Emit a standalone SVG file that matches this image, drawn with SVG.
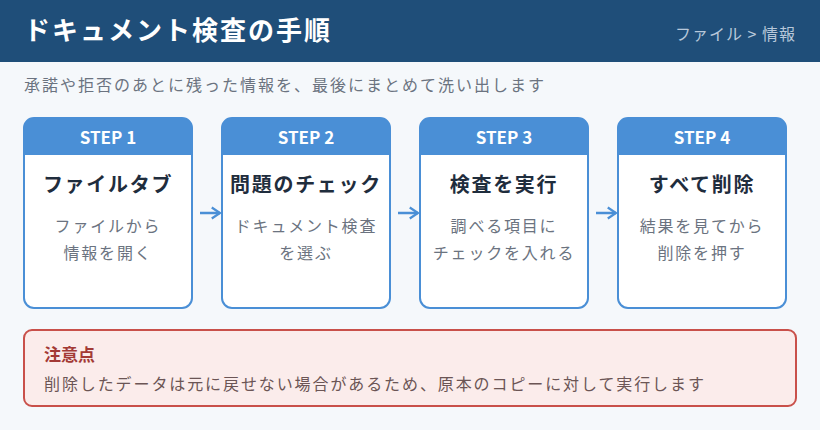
<svg xmlns="http://www.w3.org/2000/svg" width="820" height="430" viewBox="0 0 820 430">
<style>
text{font-family:"Noto Sans CJK JP","Noto Sans",sans-serif}
.card{fill:#fff;stroke:#4a8fd6;stroke-width:2}
.band{fill:#4a8fd6}
.step{fill:#fff;font-size:17px;font-weight:bold;text-anchor:middle}
.title{fill:#1f2d3d;font-size:20px;font-weight:bold;text-anchor:middle;letter-spacing:1.7px}
.desc{fill:#6b7380;font-size:16px;text-anchor:middle;letter-spacing:1.8px}
.arr{stroke:#4a8fd6;stroke-width:2.5;fill:none}
</style>
<defs>
<marker id="ah" viewBox="0 0 10 10" refX="8" refY="5" markerWidth="5.5" markerHeight="5.5" orient="auto"><path d="M2 1L8 5L2 9" fill="none" stroke="#4a8fd6" stroke-width="1.6"/></marker>
</defs>
<rect width="820" height="430" fill="#f5f8fb"/>
<g id="header">
<rect width="820" height="62" fill="#1f4e79"/>
<text x="24" y="40" fill="#fff" font-size="26" font-weight="bold" letter-spacing="2">ドキュメント検査の手順</text>
<text x="796" y="40" fill="#b8c8da" font-size="16" text-anchor="end" letter-spacing="1">ファイル &gt; 情報</text>
</g>
<text x="24" y="91" fill="#6b7380" font-size="16" letter-spacing="2">承諾や拒否のあとに残った情報を、最後にまとめて洗い出します</text>
<g id="s1"><rect class="card" x="24" y="118" width="168" height="190" rx="10"/><path class="band" d="M34 118H182A10 10 0 0 1 192 128V155H24V128A10 10 0 0 1 34 118Z"/>
<text class="step" x="108" y="144">STEP 1</text><text class="title" x="108" y="192">ファイルタブ</text><text class="desc" x="108" y="232">ファイルから</text><text class="desc" x="108" y="259">情報を開く</text></g>
<g id="s2"><rect class="card" x="222" y="118" width="168" height="190" rx="10"/><path class="band" d="M232 118H380A10 10 0 0 1 390 128V155H222V128A10 10 0 0 1 232 118Z"/>
<text class="step" x="306" y="144">STEP 2</text><text class="title" x="306" y="192">問題のチェック</text><text class="desc" x="306" y="232">ドキュメント検査</text><text class="desc" x="306" y="259">を選ぶ</text></g>
<g id="s3"><rect class="card" x="420" y="118" width="168" height="190" rx="10"/><path class="band" d="M430 118H578A10 10 0 0 1 588 128V155H420V128A10 10 0 0 1 430 118Z"/>
<text class="step" x="504" y="144">STEP 3</text><text class="title" x="504" y="192">検査を実行</text><text class="desc" x="504" y="232">調べる項目に</text><text class="desc" x="504" y="259">チェックを入れる</text></g>
<g id="s4"><rect class="card" x="618" y="118" width="168" height="190" rx="10"/><path class="band" d="M628 118H776A10 10 0 0 1 786 128V155H618V128A10 10 0 0 1 628 118Z"/>
<text class="step" x="702" y="144">STEP 4</text><text class="title" x="702" y="192">すべて削除</text><text class="desc" x="702" y="232">結果を見てから</text><text class="desc" x="702" y="259">削除を押す</text></g>
<g id="connectors">
<line class="arr" x1="200" y1="213" x2="220" y2="213" marker-end="url(#ah)"/>
<line class="arr" x1="398" y1="213" x2="418" y2="213" marker-end="url(#ah)"/>
<line class="arr" x1="596" y1="213" x2="616" y2="213" marker-end="url(#ah)"/>
</g>
<g id="note">
<rect x="24" y="330" width="772" height="76" rx="8" fill="#fbeceb" stroke="#c9504a" stroke-width="2"/>
<text x="44" y="361" fill="#a33a36" font-size="17" font-weight="bold">注意点</text>
<text x="44" y="390" fill="#6b5555" font-size="16" letter-spacing="1.9">削除したデータは元に戻せない場合があるため、原本のコピーに対して実行します</text>
</g>
</svg>
